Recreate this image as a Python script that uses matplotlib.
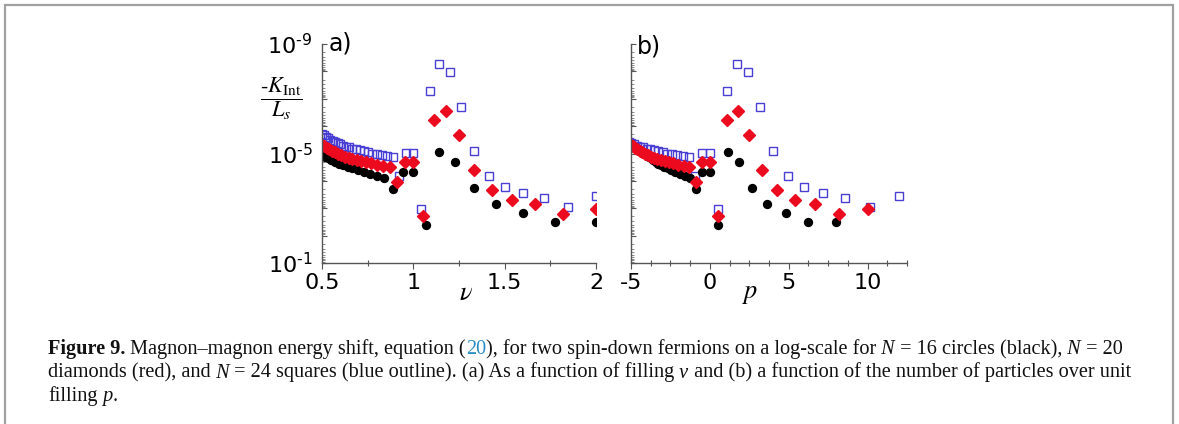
import numpy as np
import matplotlib
matplotlib.use("Agg")
import matplotlib.pyplot as plt
from matplotlib.ticker import LogLocator, NullFormatter, FixedLocator, FuncFormatter
from matplotlib.patches import Rectangle

plt.rcParams['axes.unicode_minus'] = False
plt.rcParams['font.family'] = 'DejaVu Sans'

# system sizes L for each particle number N (filling nu = N/L, p = N(N-L)/(2L))
N16 = 16
L16 = [32, 31, 30, 29, 28, 27, 26, 25, 24, 23, 22, 21, 20, 19, 18, 17, 16, 15, 14, 13, 12, 11, 10, 9, 8]
# log10(-K_Int/L_s)
logk16 = [-4.95, -4.88, -4.82, -4.75, -4.69, -4.63, -4.57, -4.51, -4.46, -4.39, -4.33, -4.26, -4.18,
          -4.12, -3.70, -4.32, -4.32, -2.37, -5.07, -4.69, -3.73, -3.16, -2.82, -2.48, -2.50]

N20 = 20
L20 = [40, 39, 38, 37, 36, 35, 34, 33, 32, 31, 30, 29, 28, 27, 26, 25, 24, 23, 22, 21, 20, 19, 18, 17,
       16, 15, 14, 13, 12, 11, 10]
logk20 = [-5.31, -5.26, -5.20, -5.15, -5.09, -5.04, -4.99, -4.94, -4.89, -4.85, -4.80, -4.76, -4.72,
          -4.68, -4.64, -4.59, -4.55, -4.49, -3.95, -4.70, -4.70, -2.70, -6.23, -6.55, -5.68, -4.38,
          -3.67, -3.31, -3.14, -2.78, -2.98]

N24 = 24
L24 = [48, 47, 46, 45, 44, 43, 42, 41, 40, 39, 38, 37, 36, 35, 34, 33, 32, 31, 30, 29, 28, 27, 26, 25,
       24, 23, 22, 21, 20, 19, 18, 17, 16, 15, 14, 13, 12]
logk24 = [-5.72, -5.66, -5.61, -5.56, -5.51, -5.46, -5.42, -5.37, -5.33, -5.29, -5.25, -5.22, -5.18,
          -5.15, -5.11, -5.08, -5.04, -5.00, -4.97, -4.94, -4.91, -4.87, -4.16, -5.03, -5.03, -2.98,
          -7.28, -8.27, -7.97, -6.71, -5.09, -4.16, -3.79, -3.55, -3.39, -3.03, -3.45]

BLUE = '#4a3fd4'
RED = '#ec0a1e'

def series(N, L, logk):
    L = np.array(L, dtype=float)
    nu = N / L
    p = N * (N - L) / (2 * L)
    return nu, p, 10.0 ** np.array(logk)

nu16, p16, k16 = series(N16, L16, logk16)
nu20, p20, k20 = series(N20, L20, logk20)
nu24, p24, k24 = series(N24, L24, logk24)

fig = plt.figure(figsize=(11.79, 4.24), dpi=100)

W, H = 1179.0, 424.0
ax1 = fig.add_axes([322 / W, 1 - 263 / H, 274 / W, 219 / H])
ax2 = fig.add_axes([631 / W, 1 - 263 / H, 276 / W, 219 / H])

def draw(ax, x16, x20, x24):
    ax.plot(x24, k24, 's', ms=6.3, mfc='none', mec=BLUE, mew=1.0, clip_on=True)
    ax.plot(x16, k16, 'o', ms=5.7, color='black', mec='black')
    ax.plot(x20, k20, 'D', ms=6.0, color=RED, mec=RED)
    ax.set_yscale('log')
    ax.set_ylim(1e-1, 1e-9)
    for s in ('top', 'right'):
        ax.spines[s].set_visible(False)
    for s in ('left', 'bottom'):
        ax.spines[s].set_color('#555555')
        ax.spines[s].set_linewidth(1.0)
    ax.yaxis.set_major_locator(LogLocator(base=10, numticks=20))
    ax.yaxis.set_minor_locator(LogLocator(base=10, subs=np.arange(2, 10), numticks=20))
    ax.yaxis.set_minor_formatter(NullFormatter())
    ax.tick_params(axis='y', which='major', direction='in', length=3.5, width=0.8, color='#555555',
                   labelsize=16, pad=7)
    ax.tick_params(axis='y', which='minor', direction='in', length=2, width=0.6, color='#777777')
    ax.tick_params(axis='x', which='major', direction='out', length=4, width=0.8, color='#555555',
                   labelsize=16, pad=3)
    ax.tick_params(axis='x', which='minor', direction='inout', length=4, width=0.8, color='#555555')

draw(ax1, nu16, nu20, nu24)
draw(ax2, p16, p20, p24)

def ylab(v, pos):
    e = int(round(np.log10(v)))
    return r'$10^{\text{-%d}}$' % (-e) if e in (-9, -5, -1) else ''

ax1.yaxis.set_major_formatter(FuncFormatter(ylab))
ax2.yaxis.set_major_formatter(NullFormatter())

ax1.set_xlim(0.5, 2.0)
ax1.xaxis.set_major_locator(FixedLocator([0.5, 1, 1.5, 2]))
ax1.xaxis.set_minor_locator(FixedLocator([0.75, 1.25, 1.75]))
ax1.set_xticklabels(['0.5', '1', '1.5', '2'])

ax2.set_xlim(-5, 12.5)
ax2.xaxis.set_major_locator(FixedLocator([-5, 0, 5, 10]))
ax2.xaxis.set_minor_locator(FixedLocator([-3.75, -2.5, -1.25, 1.25, 2.5, 3.75, 6.25, 7.5, 8.75, 11.25, 12.5]))
ax2.set_xticklabels(['-5', '0', '5', '10'])

ax1.text(0.025, 1.0, 'a)', transform=ax1.transAxes, fontsize=17, va='center', ha='left')
ax2.text(0.022, 0.99, 'b)', transform=ax2.transAxes, fontsize=17, va='center', ha='left')

ax1.text(0.524, -0.135, r'$\nu$', transform=ax1.transAxes, fontsize=19, ha='center', va='center',
         math_fontfamily='stix')
ax2.text(0.431, -0.135, r'$p$', transform=ax2.transAxes, fontsize=19, ha='center', va='center',
         math_fontfamily='stix')

fig.text(281 / W, 1 - 99 / H, r'$\dfrac{\text{-}K_{\mathrm{Int}}}{L_s}$', fontsize=16, ha='center',
         va='center', math_fontfamily='stix')

# figure frame
fig.add_artist(Rectangle((5 / W, -0.1), 1168 / W, 1.1 - 5 / H, transform=fig.transFigure,
                         fill=False, ec='#a0a0a0', lw=1.6))

# caption
cap = fig.add_axes([0, 0, 1, 1])
cap.axis('off')
cap.set_zorder(-1)
CFONT = 'Liberation Serif'
CSIZE = 14.6
norm = dict(family=CFONT, fontsize=CSIZE, color='#111111')
bold = dict(norm, weight='bold')
ital = dict(norm, style='italic')
link = dict(norm, color='#2b8cc4')

lines = [
    [("Figure 9.", bold), (" Magnon\u2013magnon energy shift, equation (", norm), ("20", link),
     ("), for two spin-down fermions on a log-scale for", norm), (" N", ital),
     (" = 16 circles (black),", norm), (" N", ital), (" = 20", norm)],
    [("diamonds (red), and", norm), (" N", ital),
     (" = 24 squares (blue outline). (a) As a function of filling", norm), (" \u03bd", ital),
     (" and (b) a function of the number of particles over unit", norm)],
    [("filling", norm), (" p", ital), (".", norm)],
]
baselines = [354, 377.5, 401]
for pieces, yb in zip(lines, baselines):
    prev = None
    for txt, props in pieces:
        if prev is None:
            prev = cap.text(48 / W, 1 - yb / H, txt, transform=cap.transAxes, ha='left',
                            va='baseline', **props)
        else:
            prev = cap.annotate(txt, xy=(1, 0), xycoords=prev, ha='left', va='bottom', **props)

fig.savefig('out.png', dpi=100)
